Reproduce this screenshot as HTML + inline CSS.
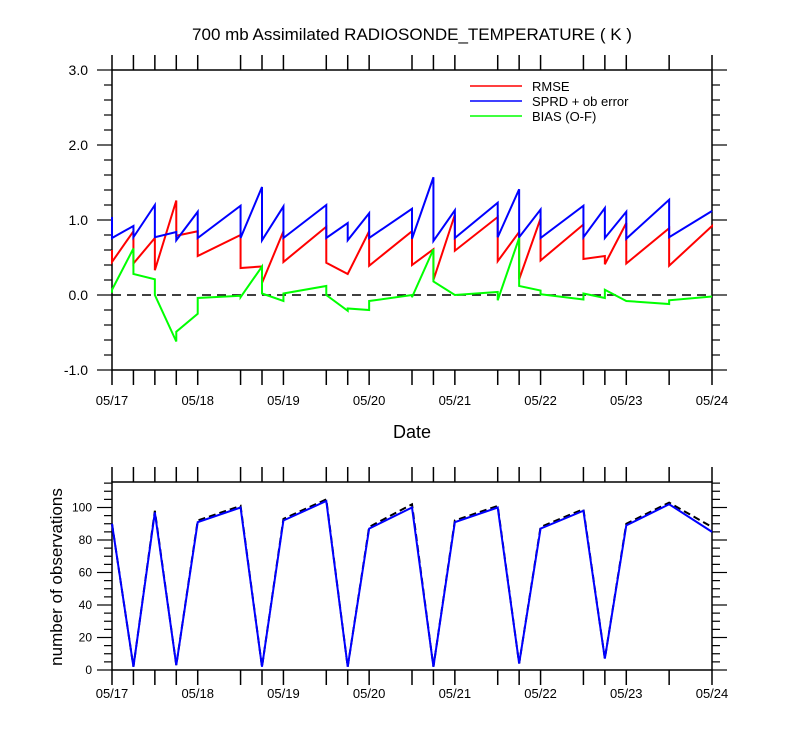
<!DOCTYPE html>
<html><head><meta charset="utf-8"><style>
body{margin:0;background:#fff}
svg{display:block;font-family:"Liberation Sans",sans-serif}
</style></head><body>
<svg id="c" width="800" height="750"></svg>
<script>
const dateLabels=["05/17","05/18","05/19","05/20","05/21","05/22","05/23","05/24"];
const times=[0,0.25,0.5,0.75,1.0,1.5,1.75,2.0,2.5,2.75,3.0,3.5,3.75,4.0,4.5,4.75,5.0,5.5,5.75,6.0,6.5,7.0];
const rmseArrive=[0.6,0.85,0.76,1.26,0.85,0.8,0.38,0.85,0.91,0.28,0.85,0.85,0.61,1.07,1.04,0.84,1.02,0.94,0.52,0.96,0.89,0.92];
const rmseLeave=[0.44,0.42,0.33,0.79,0.52,0.36,0.16,0.44,0.43,0.28,0.39,0.40,0.2,0.59,0.45,0.21,0.46,0.48,0.41,0.42,0.39,0.9];
const sprdArrive=[1.04,0.92,1.2,0.84,1.11,1.19,1.44,1.18,1.2,0.96,1.09,1.15,1.57,1.13,1.23,1.41,1.14,1.19,1.16,1.11,1.27,1.12];
const sprdLeave=[0.76,0.77,0.77,0.73,0.76,0.76,0.73,0.76,0.76,0.73,0.76,0.75,0.72,0.76,0.77,0.77,0.76,0.77,0.76,0.75,0.77,1.12];
const biasArrive=[0.03,0.62,0.21,-0.62,-0.25,-0.01,0.38,-0.08,0.12,-0.21,-0.2,0.0,0.61,0.0,0.04,0.76,0.06,-0.06,-0.04,-0.08,-0.12,-0.02];
const biasLeave=[0.07,0.28,0.0,-0.49,-0.04,-0.03,0.02,0.02,0.0,-0.18,-0.08,-0.03,0.18,0.0,-0.07,0.12,0.01,0.02,0.07,-0.08,-0.07,-0.02];
const obsBlue=[90,2,97,3,91,100,2,92,104,2,87,100,2,91,100,4,87,98,7,89,102,85];
const obsBlack=[90,2,98,3,92,101,2,93,105,2,88,102,2,92,101,4,88,99,7,90,103,88];
const topYTicks=[-1,0,1,2,3];
const botYTicks=[0,20,40,60,80,100];

const NS="http://www.w3.org/2000/svg",svg=document.getElementById('c');
function mk(t,a,p){const e=document.createElementNS(NS,t);for(const k in a)e.setAttribute(k,a[k]);(p||svg).appendChild(e);return e;}
const X0=112,X1=712;
const xs=t=>X0+(X1-X0)*t/7;
const yTop=v=>295-75*v;
const yBot=v=>670-1.625*v;

function frame(top,bot,gname){
  const g=mk('g',{});
  
  
  mk('rect',{x:X0,y:top,width:X1-X0,height:bot-top,fill:'none',stroke:'#000','stroke-width':1.5},g);
  times.forEach(t=>{
    mk('line',{x1:xs(t),x2:xs(t),y1:top,y2:top-15,stroke:'#000','stroke-width':1.5},g);
    mk('line',{x1:xs(t),x2:xs(t),y1:bot,y2:bot+15,stroke:'#000','stroke-width':1.5},g);
  });
  return g;
}
const gt=frame(70,370,'top-plot');
for(let v=-1;v<=3.001;v+=0.2){const maj=Math.abs(v-Math.round(v))<1e-6;const L=maj?15:8;
  mk('line',{x1:X0,x2:X0-L,y1:yTop(v),y2:yTop(v),stroke:'#000','stroke-width':1.2},gt);
  mk('line',{x1:X1,x2:X1+L,y1:yTop(v),y2:yTop(v),stroke:'#000','stroke-width':1.2},gt);}
topYTicks.forEach(v=>{const t=mk('text',{x:88,y:yTop(v)+5,'text-anchor':'end','font-size':14},gt);t.textContent=v.toFixed(1);
  });
dateLabels.forEach((d,i)=>{const t=mk('text',{x:xs(i),y:405,'text-anchor':'middle','font-size':13},gt);t.textContent=d;
  });
const z=mk('line',{x1:X0,x2:X1,y1:yTop(0),y2:yTop(0),stroke:'#000','stroke-width':1.5,'stroke-dasharray':'9,6'});

function saw(arr,lea,col,name){let d='';times.forEach((t,i)=>{d+=(i?'L':'M')+xs(t)+','+yTop(arr[i])+'L'+xs(t)+','+yTop(lea[i]);});
  const p=mk('path',{d:d,fill:'none',stroke:col,'stroke-width':2});}
saw(rmseArrive,rmseLeave,'#f00','rmse-line');
saw(sprdArrive,sprdLeave,'#00f','sprd-line');
saw(biasArrive,biasLeave,'#0f0','bias-line');
[['RMSE','#f00',86],['SPRD + ob error','#00f',101],['BIAS (O-F)','#0f0',116]].forEach(([n,c,y])=>{
  const g=mk('g',{});
  mk('line',{x1:470,x2:522,y1:y,y2:y,stroke:c,'stroke-width':1.5},g);
  const t=mk('text',{x:532,y:y+5,'font-size':13},g);t.textContent=n;});
let t=mk('text',{x:412,y:40,'text-anchor':'middle','font-size':17});t.textContent='700 mb Assimilated RADIOSONDE_TEMPERATURE ( K )';

t=mk('text',{x:412,y:438,'text-anchor':'middle','font-size':18});t.textContent='Date';

const gb=frame(482,670,'bottom-plot');
for(let v=0;v<=115;v+=5){const maj=v%20==0;const L=maj?15:8;
  mk('line',{x1:X0,x2:X0-L,y1:yBot(v),y2:yBot(v),stroke:'#000','stroke-width':1.2},gb);
  mk('line',{x1:X1,x2:X1+L,y1:yBot(v),y2:yBot(v),stroke:'#000','stroke-width':1.2},gb);}
botYTicks.forEach(v=>{const t=mk('text',{x:92,y:yBot(v)+4,'text-anchor':'end','font-size':12},gb);t.textContent=v;
  });
dateLabels.forEach((d,i)=>{const t=mk('text',{x:xs(i),y:698,'text-anchor':'middle','font-size':13},gb);t.textContent=d;
  });
function ln(vals,col,name,dash){let d='';times.forEach((t,i)=>{d+=(i?'L':'M')+xs(t)+','+yBot(vals[i]);});
  const a={d:d,fill:'none',stroke:col,'stroke-width':2};if(dash)a['stroke-dasharray']=dash;
  const p=mk('path',a);}
ln(obsBlack,'#000','obs-black-line','7,4');
ln(obsBlue,'#00f','obs-blue-line');
t=mk('text',{x:62,y:577,'text-anchor':'middle','font-size':17,transform:'rotate(-90 62 577)'});t.textContent='number of observations';

</script>
</body></html>
